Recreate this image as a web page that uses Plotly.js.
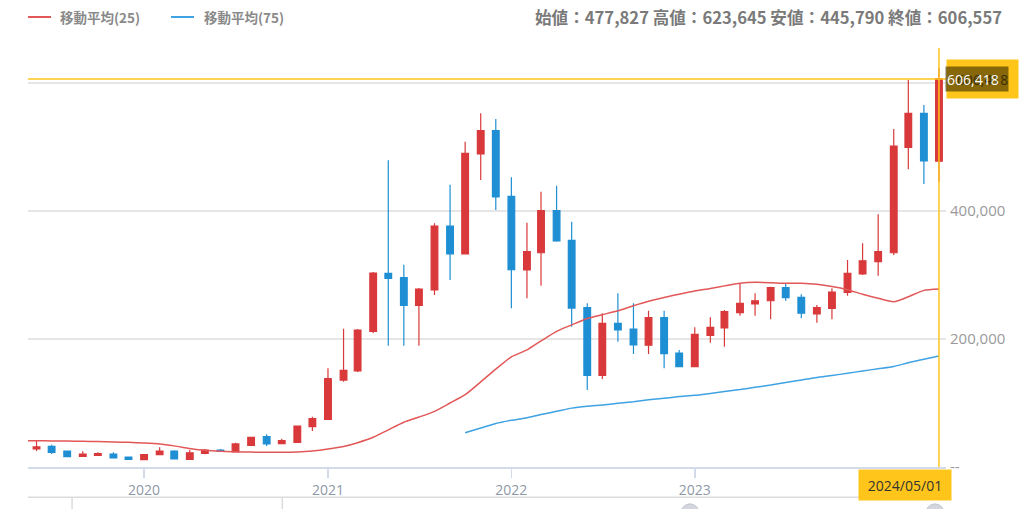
<!DOCTYPE html>
<html><head><meta charset="utf-8">
<script src="https://cdn.plot.ly/plotly-3.0.1.min.js"></script>
<style>html,body{margin:0;padding:0;background:#fff;}#chart{width:1024px;height:509px;}</style>
</head><body><div id="chart"></div>
<script>
const dates = [
 '2019-06-01','2019-07-01','2019-08-01','2019-09-01','2019-10-01','2019-11-01','2019-12-01',
 '2020-01-01','2020-02-01','2020-03-01','2020-04-01','2020-05-01','2020-06-01','2020-07-01','2020-08-01','2020-09-01','2020-10-01','2020-11-01','2020-12-01',
 '2021-01-01','2021-02-01','2021-03-01','2021-04-01','2021-05-01','2021-06-01','2021-07-01','2021-08-01','2021-09-01','2021-10-01','2021-11-01','2021-12-01',
 '2022-01-01','2022-02-01','2022-03-01','2022-04-01','2022-05-01','2022-06-01','2022-07-01','2022-08-01','2022-09-01','2022-10-01','2022-11-01','2022-12-01',
 '2023-01-01','2023-02-01','2023-03-01','2023-04-01','2023-05-01','2023-06-01','2023-07-01','2023-08-01','2023-09-01','2023-10-01','2023-11-01','2023-12-01',
 '2024-01-01','2024-02-01','2024-03-01','2024-04-01','2024-05-01'];
const openV = [28100,32300,25000,16700,18300,20300,15600,
 11400,19200,25000,12000,21400,26600,23400,33900,47400,36400,38600,63000,
 74500,135900,150000,212000,302700,295800,252700,276600,376600,332800,489100,525500,
 423000,307800,334800,400500,354200,248900,143300,224500,215600,190200,233300,178100,
 156700,205800,217200,241100,254700,259800,280200,265200,239100,248000,273000,301600,
 320800,334800,499500,552700,477827];
const highV = [40600,34800,25800,24500,23000,23000,16400,
 19500,30800,26000,26600,28000,28000,38000,47000,51000,44200,65000,78600,
 154200,216100,215600,304700,479200,316100,279700,380800,441100,508300,552700,543800,
 452700,381700,430200,439500,383300,255800,240200,271400,255800,244200,244200,182800,
 218300,233900,245300,285900,271400,281500,287000,269800,253100,279200,323400,349500,
 394800,528100,604700,565600,623645];
const lowV = [25000,20300,15600,16000,17500,13500,11500,
 11000,18800,12000,11500,20000,24000,23000,33000,32800,35900,38000,56300,
 74000,133300,148400,209400,189500,189500,189500,268800,292200,332000,448400,401600,
 248000,263600,283300,352000,219200,120300,137500,195800,176600,176600,154200,156000,
 156000,194200,188000,236400,236400,230800,259800,232300,225500,230800,267700,300000,
 298900,331300,465200,442200,445790];
const closeV = [31300,23000,16100,20300,20800,14100,12000,
 19200,25000,12500,22300,26600,24500,36000,46400,35900,41100,64100,75500,
 138000,151100,214000,303100,294800,252700,278100,376600,332800,490200,525500,421900,
 308300,336400,400500,353100,248400,143300,224500,214100,190600,233300,177000,156700,
 207300,218300,242700,255800,259800,280200,264500,240200,248900,273400,302700,322300,
 336400,501600,552700,478100,606557];
const ma25Dates = ['2019-05-01'].concat(dates);
const ma25 = [41100,41000,40800,40500,40200,39700,39000,38500,
 37500,36000,33000,29000,26000,24500,23800,23300,23000,23000,23500,25000,
 28000,32000,38000,46400,58000,70000,78000,87000,100000,113000,133000,153000,
 172000,183000,197000,212000,222000,232000,238000,244000,252000,259000,265000,270000,
 275000,279000,283000,287000,288500,288000,287000,287000,285400,282000,277000,270000,
 263600,258300,266000,276000,278100];
const ma75Dates = dates.slice(28);
const ma75 = [53600,61000,68000,73000,77000,82000,87000,92000,95000,97000,99500,102000,
 105000,107500,110000,112000,115000,118000,121000,124500,128000,132000,136000,140000,
 143000,146500,150000,153500,157000,163000,168500,173400];
const yTickVals = [0,200000,400000,600000];
const yTickText = ['--','200,000','400,000',''];
const xTickVals = ['2020-01-01','2021-01-01','2022-01-01','2023-01-01'];
const xTickText = ['2020','2021','2022','2023'];
const legendNames = ['移動平均(25)','移動平均(75)'];
const headerText = '始値：477,827 高値：623,645 安値：445,790 終値：606,557';
const crossValue = 606418;
const crossLabel = '606,418';
const crossDate = '2024-05-01';
const crossDateLabel = '2024/05/01';

const RED = '#d9393b', BLUE = '#1f8fd4';
const traces = [
 {type:'scatter', mode:'lines', x:ma25Dates, y:ma25, line:{color:'#e25757', width:1.5, shape:'spline', smoothing:0.6}, hoverinfo:'skip', showlegend:false},
 {type:'scatter', mode:'lines', x:ma75Dates, y:ma75, line:{color:'#3ea2e3', width:1.5, shape:'spline', smoothing:0.6}, hoverinfo:'skip', showlegend:false},
 {type:'candlestick', x:dates, open:openV, high:highV, low:lowV, close:closeV,
  increasing:{line:{color:RED, width:1.2}, fillcolor:RED},
  decreasing:{line:{color:BLUE, width:1.2}, fillcolor:BLUE},
  whiskerwidth:0, showlegend:false, hoverinfo:'skip'}
];
const LEGY = 1.074;
const layout = {
 width:1024, height:509,
 margin:{l:28, r:78, t:48, b:42},
 paper_bgcolor:'#fff', plot_bgcolor:'#fff',
 showlegend:false, boxgap:0.32,
 font:{family:'"Noto Sans CJK JP", "Noto Sans", sans-serif', color:'#888'},
 xaxis:{type:'date', range:['2019-05-15','2024-05-15'], tickvals:xTickVals, ticktext:xTickText,
   tickfont:{size:14, color:'#8e97a8', family:'"Open Sans", sans-serif'}, ticks:'outside', ticklen:9, tickcolor:'#d3dbea', tickwidth:1.5,
   showline:true, linecolor:'#d3dbea', linewidth:2, showgrid:false, zeroline:false,
   rangeslider:{visible:false}, fixedrange:true},
 yaxis:{side:'right', range:[0,654700], tickvals:yTickVals, ticktext:yTickText,
   tickfont:{size:15, color:'#9a9a9a', family:'"Open Sans", sans-serif'}, showgrid:true, gridcolor:'#e6e6e6', gridwidth:1.5,
   zeroline:false, showline:false, ticks:'', ticklabelstandoff:3, fixedrange:true},
 shapes:[
  {type:'line', xref:'paper', yref:'paper', x0:0, x1:0.0251, y0:LEGY, y1:LEGY, line:{color:'#e25757', width:2}},
  {type:'line', xref:'paper', yref:'paper', x0:0.1558, x1:0.1808, y0:LEGY, y1:LEGY, line:{color:'#3ea2e3', width:2}},
  {type:'line', xref:'paper', yref:'y', x0:0, x1:1, y0:crossValue, y1:crossValue, line:{color:'#ffc51a', width:1.5}},
  {type:'line', xref:'x', yref:'paper', x0:crossDate, x1:crossDate, y0:0, y1:1, line:{color:'#ffc51a', width:1.5}},
  {type:'line', xref:'paper', yref:'paper', x0:0, x1:1, y0:-0.072, y1:-0.072, line:{color:'#dcdcdc', width:1.5}},
  {type:'line', xref:'paper', yref:'paper', x0:0.048, x1:0.048, y0:-0.072, y1:-0.11, line:{color:'#dcdcdc', width:1.5}},
  {type:'line', xref:'paper', yref:'paper', x0:0.277, x1:0.277, y0:-0.072, y1:-0.11, line:{color:'#dcdcdc', width:1.5}},
  {type:'circle', xref:'paper', yref:'paper', x0:0.7113, x1:0.7309, y0:-0.088, y1:-0.131, fillcolor:'#d3d6dc', line:{color:'#c2c6ce', width:1}},
  {type:'circle', xref:'paper', yref:'paper', x0:0.9782, x1:0.9978, y0:-0.088, y1:-0.131, fillcolor:'#d3d6dc', line:{color:'#c2c6ce', width:1}}
 ],
 annotations:[
  {xref:'paper', yref:'paper', x:0.033, y:LEGY, xanchor:'left', yanchor:'middle', showarrow:false, text:legendNames[0], font:{size:13.5, color:'#8a8a8a', weight:600}},
  {xref:'paper', yref:'paper', x:0.1895, y:LEGY, xanchor:'left', yanchor:'middle', showarrow:false, text:legendNames[1], font:{size:13.5, color:'#8a8a8a', weight:600}},
  {xref:'paper', yref:'paper', x:1.0632, y:LEGY, xanchor:'right', yanchor:'middle', showarrow:false, text:headerText, font:{size:16.6, color:'#7a7a7a', weight:700}},
  {xref:'paper', yref:'y', x:1.0, y:crossValue, xanchor:'left', yanchor:'middle', showarrow:false, text:crossLabel,
    bgcolor:'#ffc51a', width:69, height:36, font:{size:14, color:'#3a3000', family:'"Open Sans", sans-serif'}},
  {xref:'paper', yref:'y', x:0.999, y:crossValue, xanchor:'left', yanchor:'middle', showarrow:false, text:crossLabel, align:'left',
    bgcolor:'rgba(60,45,0,0.62)', width:60, height:22, font:{size:14, color:'#ffffff', family:'"Open Sans", sans-serif'}},
  {xref:'paper', yref:'paper', x:1.007, y:-0.005, xanchor:'right', yanchor:'top', showarrow:false, text:crossDateLabel,
    bgcolor:'#ffc51a', width:90, height:28, font:{size:14, color:'#333', family:'"Open Sans", sans-serif'}}
 ]
};
Plotly.newPlot('chart', traces, layout, {staticPlot:true, displayModeBar:false});
</script></body></html>
